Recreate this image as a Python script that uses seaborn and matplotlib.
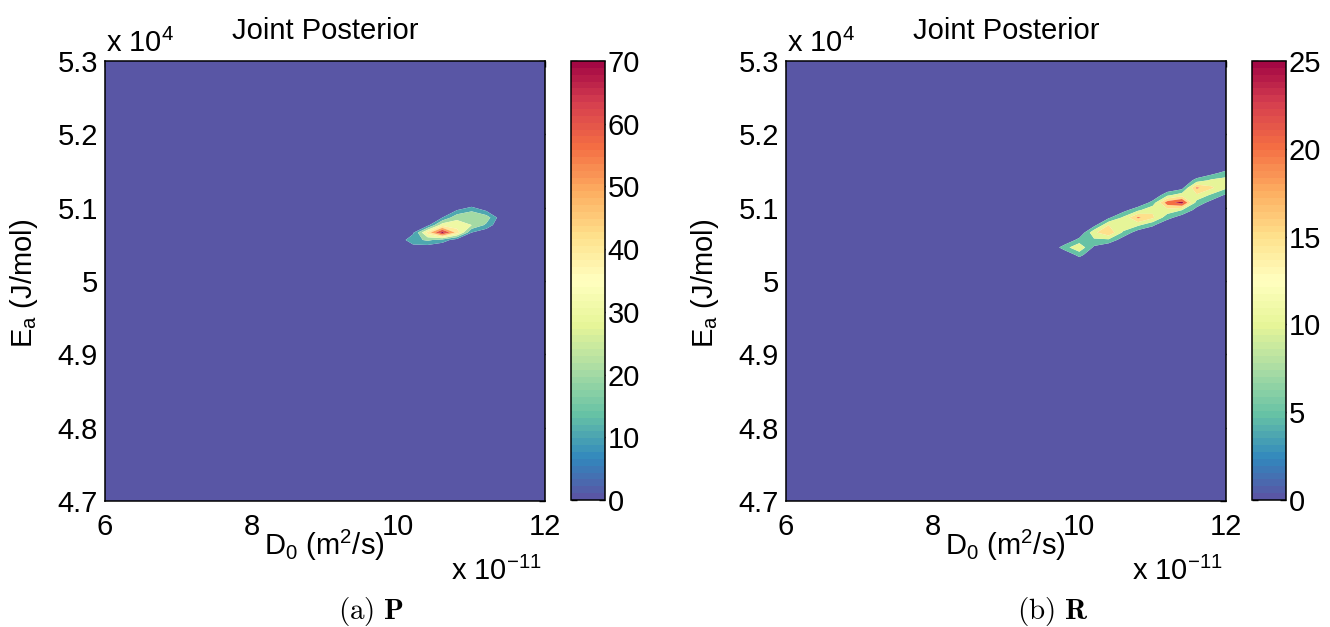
import numpy as np
import matplotlib
matplotlib.use("Agg")
import matplotlib.pyplot as plt
from matplotlib.colors import ListedColormap, Normalize
from matplotlib.cm import ScalarMappable
import seaborn as sns

# ---------------------------------------------------------------------------
# Evaluation grid of the joint posterior
# D0 in units of 1e-11 m^2/s, Ea in J/mol
# ---------------------------------------------------------------------------
d0_grid = np.round(np.linspace(6.0, 12.0, 31), 2)
ea_grid = np.linspace(47000.0, 53000.0, 60)

x_ticks = [6, 8, 10, 12]
y_ticks = [47000, 48000, 49000, 50000, 51000, 52000, 53000]
y_tick_labels = ["4.7", "4.8", "4.9", "5", "5.1", "5.2", "5.3"]

# Panel (a): non-zero part of the posterior (rows are indices into ea_grid)
p_d0 = [10.0, 10.2, 10.4, 10.6, 10.8, 11.0, 11.2, 11.4]
p_rows = [34, 35, 36, 37, 38, 39]
p_density = [
    [0, 6, 4, 0, 0, 0, 0, 0],
    [4, 16, 22, 16, 4, 0, 0, 0],
    [0, 8, 44, 74, 46, 10, 2, 0],
    [0, 0, 6, 36, 34, 30, 18, 0],
    [0, 0, 0, 10, 28, 30, 26, 4],
    [0, 0, 0, 0, 10, 18, 8, 0],
]
p_levels = [0, 10, 20, 30, 40, 50, 60, 70, 80]
p_cbar_max = 70
p_cbar_ticks = [0, 10, 20, 30, 40, 50, 60, 70]

# Panel (b)
r_d0 = [9.8, 10.0, 10.2, 10.4, 10.6, 10.8, 11.0, 11.2, 11.4, 11.6, 11.8, 12.0]
r_rows = [33, 34, 35, 36, 37, 38, 39, 40, 41, 42, 43, 44]
r_density = [
    [0, 7, 0, 0, 0, 0, 0, 0, 0, 0, 0, 0],
    [8, 14, 4, 0, 0, 0, 0, 0, 0, 0, 0, 0],
    [0, 7, 9, 9, 2, 0, 0, 0, 0, 0, 0, 0],
    [0, 0, 14, 19, 9, 2, 0, 0, 0, 0, 0, 0],
    [0, 0, 3, 15, 14, 11, 6, 0, 0, 0, 0, 0],
    [0, 0, 0, 4, 11, 21, 16, 7, 2, 0, 0, 0],
    [0, 0, 0, 0, 3, 9, 14, 13, 10, 3, 0, 0],
    [0, 0, 0, 0, 0, 0, 7, 23, 27, 8, 3, 0],
    [0, 0, 0, 0, 0, 0, 0, 9, 13, 14, 9, 4],
    [0, 0, 0, 0, 0, 0, 0, 0, 3, 21, 16, 11],
    [0, 0, 0, 0, 0, 0, 0, 0, 0, 7, 11, 12],
    [0, 0, 0, 0, 0, 0, 0, 0, 0, 0, 3, 7],
]
r_levels = [0, 5, 10, 15, 20, 25, 30]
r_cbar_max = 25
r_cbar_ticks = [0, 5, 10, 15, 20, 25]

captions = [r"$\mathrm{(a)}\ \mathbf{P}$", r"$\mathrm{(b)}\ \mathbf{R}$"]


def full_grid(d0_cols, rows, block):
    z = np.zeros((len(ea_grid), len(d0_grid)))
    for i, m in enumerate(rows):
        for j, d in enumerate(d0_cols):
            k = int(np.argmin(np.abs(d0_grid - d)))
            z[m, k] = block[i][j]
    return z


# ---------------------------------------------------------------------------
# Style
# ---------------------------------------------------------------------------
sns.set_style("white")
plt.rcParams["font.family"] = ["Liberation Sans", "DejaVu Sans"]
plt.rcParams["text.color"] = "black"
plt.rcParams["axes.labelcolor"] = "black"
plt.rcParams["xtick.color"] = "black"
plt.rcParams["ytick.color"] = "black"
plt.rcParams["mathtext.fontset"] = "custom"
plt.rcParams["mathtext.rm"] = "Liberation Sans"
plt.rcParams["mathtext.it"] = "Liberation Sans:italic"
plt.rcParams["mathtext.bf"] = "Liberation Sans:bold"

FS = 21
cmap64 = ListedColormap(sns.color_palette("Spectral_r", 64))

W, H = 1330, 627
fig = plt.figure(figsize=(W / 100, H / 100), dpi=100)
fig.patch.set_facecolor("white")


def box(l, t, r, b):
    return [l / W, 1 - b / H, (r - l) / W, (b - t) / H]


def ftext(x, y, s, **kw):
    fig.text(x / W, 1 - y / H, s, fontsize=FS, color="black", **kw)


panels = [
    dict(dx=0, d0=p_d0, rows=p_rows, dens=p_density, levels=p_levels,
         vmax=p_cbar_max, cticks=p_cbar_ticks),
    dict(dx=681, d0=r_d0, rows=r_rows, dens=r_density, levels=r_levels,
         vmax=r_cbar_max, cticks=r_cbar_ticks),
]

for n, P in enumerate(panels):
    dx = P["dx"]
    ax = fig.add_axes(box(105 + dx, 61, 545 + dx, 501))
    cax = fig.add_axes(box(571 + dx, 61, 605 + dx, 500))

    z = full_grid(P["d0"], P["rows"], P["dens"])
    norm = Normalize(0, P["vmax"])
    fill = [cmap64(norm(v)) for v in P["levels"][:-1]]
    ax.contourf(d0_grid, ea_grid, z, levels=P["levels"], colors=fill,
                antialiased=True)

    ax.set_xlim(6, 12)
    ax.set_ylim(47000, 53000)
    ax.set_xticks(x_ticks)
    ax.set_xticklabels([str(t) for t in x_ticks])
    ax.set_yticks(y_ticks)
    ax.set_yticklabels(y_tick_labels)
    ax.tick_params(direction="in", length=4, width=1, labelsize=FS,
                   top=True, right=True, colors="black")
    ax.tick_params(axis="x", pad=8.5)
    ax.tick_params(axis="y", pad=5)
    for s in ax.spines.values():
        s.set_linewidth(1.1)
        s.set_color("black")
        s.set_visible(True)

    sm = ScalarMappable(norm=norm, cmap=cmap64)
    cb = fig.colorbar(sm, cax=cax)
    cb.set_ticks(P["cticks"])
    cb.ax.tick_params(direction="in", length=4, width=1, labelsize=FS,
                      left=True, right=True, pad=2, colors="black")
    cb.outline.set_linewidth(1.1)
    cb.outline.set_edgecolor("black")

    cx = 325 + dx
    ftext(cx, 39, "Joint Posterior", ha="center", va="baseline")
    ftext(106 + dx, 52, r"x 10$^{4}$", ha="left", va="baseline")
    ftext(324 + dx, 555, r"D$_{0}$ (m$^{2}$/s)", ha="center", va="baseline")
    ftext(542 + dx, 580, r"x 10$^{-11}$", ha="right", va="baseline")
    fig.text((32 + dx) / W, 1 - 283 / H, r"E$_{\mathrm{a}}$ (J/mol)",
             fontsize=FS, color="black", rotation=90, rotation_mode="anchor",
             ha="center", va="baseline")
    fig.text((371.5 + dx) / W, 1 - 619 / H, captions[n], fontsize=FS,
             color="black", math_fontfamily="cm", ha="center", va="baseline")

fig.savefig("out.png", dpi=100, facecolor="white")
